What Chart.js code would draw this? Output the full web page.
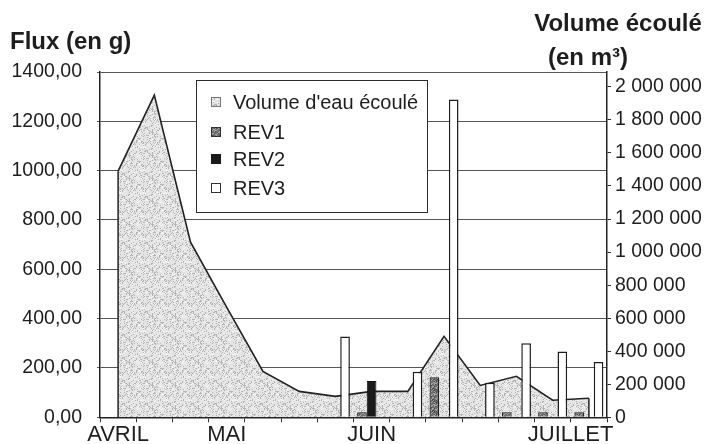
<!DOCTYPE html>
<html>
<head>
<meta charset="utf-8">
<script src="https://cdn.jsdelivr.net/npm/chart.js@4.4.1/dist/chart.umd.min.js"></script>
<style>
  html, body { margin: 0; padding: 0; background: #ffffff; }
  #wrap { width: 711px; height: 444px; position: relative; }
</style>
</head>
<body>
<div id="wrap"><canvas id="c" width="711" height="444"></canvas></div>
<script>
// ---- Data ----
const categories = ['AVRIL', '', '', 'MAI', '', '', '', 'JUIN', '', '', '', '', '', 'JUILLET'];
const volume = [1490000, 1950000, 1060000, 665000, 278000, 157000, 127000, 157000, 157000, 490000, 193000, 248000, 103000, 115000];
const rev1 = [null, null, null, null, null, null, null, 20, null, 162, null, 20, 20, 20];
const rev2 = [null, null, null, null, null, null, null, 147, null, null, null, null, null, null];
const rev3 = [null, null, null, null, null, null, 328, null, 185, 1288, 140, 300, 267, 224];
const leftTicks = [0, 200, 400, 600, 800, 1000, 1200, 1400];
const rightTickStep = 200000;
const rightTickMaxLabel = 2000000;
const seriesLabels = ["Volume d'eau écoulé", 'REV1', 'REV2', 'REV3'];

// ---- Styles ----
const FONT = "'Liberation Sans', Arial, Helvetica, sans-serif";
const TXT = '#1e1e1e';
const canvas = document.getElementById('c');
const mainCtx = canvas.getContext('2d');

// deterministic speckle texture (style only, fixed hash)
function makeSpeckle(size, base, dark, light, thrDark, thrLight) {
  const c = document.createElement('canvas');
  c.width = size; c.height = size;
  const x = c.getContext('2d');
  x.fillStyle = base; x.fillRect(0, 0, size, size);
  for (let i = 0; i < size; i++) {
    for (let j = 0; j < size; j++) {
      const h = ((i * 73856093) ^ (j * 19349663) ^ ((i * j) * 83492791)) >>> 0;
      const r = (h % 1000) / 1000;
      if (r < thrDark) { x.fillStyle = dark; x.fillRect(i, j, 1, 1); }
      else if (r > 1 - thrLight) { x.fillStyle = light; x.fillRect(i, j, 1, 1); }
    }
  }
  return mainCtx.createPattern(c, 'repeat');
}
const areaFill = makeSpeckle(23, '#e4e4e4', '#b4b4b4', '#f4f4f4', 0.2, 0.15);
const rev1Fill = makeSpeckle(11, '#6e6e6e', '#4a4a4a', '#a5a5a5', 0.2, 0.25);

const edgePlugin = {
  id: 'areaEdges',
  afterDatasetDraw(chart, args) {
    if (args.index !== 0) return;
    const pts = chart.getDatasetMeta(0).data;
    if (!pts.length) return;
    const base = chart.scales.y1.getPixelForValue(0);
    const ctx = chart.ctx;
    ctx.save();
    ctx.strokeStyle = '#222';
    ctx.lineWidth = 1.5;
    ctx.beginPath();
    ctx.moveTo(pts[0].x, pts[0].y); ctx.lineTo(pts[0].x, base);
    const l = pts[pts.length - 1];
    ctx.moveTo(l.x, l.y); ctx.lineTo(l.x, base);
    ctx.stroke();
    ctx.restore();
  }
};

const textPlugin = {
  id: 'titles',
  afterDraw(chart) {
    const ctx = chart.ctx;
    ctx.save();
    ctx.fillStyle = TXT;
    ctx.font = 'bold 24px ' + FONT;
    ctx.textBaseline = 'middle';
    ctx.textAlign = 'left';
    ctx.fillText('Flux (en g)', 10, 42);
    ctx.textAlign = 'center';
    ctx.fillText('Volume écoulé', 618, 24);
    ctx.fillText('(en m³)', 588, 58);
    ctx.restore();
  }
};

const legendPlugin = {
  id: 'boxLegend',
  afterDatasetsDraw(chart) {
    const ctx = chart.ctx;
    ctx.save();
    ctx.fillStyle = '#ffffff';
    ctx.strokeStyle = '#2a2a2a';
    ctx.lineWidth = 1;
    ctx.fillRect(196, 80, 231, 132);
    ctx.strokeRect(196.5, 80.5, 231, 132);
    const ys = [102, 132, 159, 188];
    const fills = [areaFill, rev1Fill, '#1a1a1a', '#ffffff'];
    const strokes = ['#777', '#333', '#1a1a1a', '#333'];
    ctx.font = '20px ' + FONT;
    ctx.textBaseline = 'middle';
    ctx.textAlign = 'left';
    chart.data.datasets.forEach((ds, i) => {
      const y = ys[i];
      ctx.fillStyle = fills[i];
      ctx.fillRect(211, y - 5, 10, 10);
      ctx.strokeStyle = strokes[i];
      ctx.strokeRect(211.5, y - 4.5, 9, 9);
      ctx.fillStyle = TXT;
      ctx.fillText(ds.label, 233, y + 1);
    });
    ctx.restore();
  }
};

const fmtLeft = v => v.toFixed(2).replace('.', ',');
const fmtRight = v => String(v).replace(/\B(?=(\d{3})+(?!\d))/g, ' ');

new Chart(canvas, {
  type: 'bar',
  data: {
    labels: categories,
    datasets: [
      {
        type: 'line', label: seriesLabels[0], data: volume, yAxisID: 'y1', order: 2,
        fill: 'origin', backgroundColor: areaFill, borderColor: '#222', borderWidth: 1.6,
        pointRadius: 0, tension: 0
      },
      { label: seriesLabels[1], data: rev1, yAxisID: 'y', order: 1,
        backgroundColor: rev1Fill, borderColor: '#222', borderWidth: 1.2 },
      { label: seriesLabels[2], data: rev2, yAxisID: 'y', order: 1,
        backgroundColor: '#1a1a1a', borderColor: '#111', borderWidth: 1 },
      { label: seriesLabels[3], data: rev3, yAxisID: 'y', order: 1,
        backgroundColor: '#ffffff', borderColor: '#1e1e1e', borderWidth: 1.5 }
    ]
  },
  options: {
    responsive: true,
    maintainAspectRatio: false,
    animation: false,
    devicePixelRatio: 1,
    layout: { padding: { top: 72, left: 0, right: 0, bottom: 0 } },
    datasets: { bar: { categoryPercentage: 0.8, barPercentage: 1.0, grouped: true } },
    plugins: { legend: { display: false }, tooltip: { enabled: false }, title: { display: false } },
    scales: {
      x: {
        type: 'category',
        offset: true,
        grid: { display: true, drawOnChartArea: false, drawTicks: true, tickLength: 5, color: '#333', offset: true },
        border: { display: true, color: '#222', width: 1.5 },
        ticks: {
          autoSkip: false, maxRotation: 0, minRotation: 0, padding: -1,
          color: TXT, font: { family: FONT, size: 22 },
          callback: function (v, i) {
            const l = categories[i];
            return l === 'JUILLET' ? l + '\u2007\u2007\u2007' : l;
          }
        },
        afterFit: s => { s.height = 26; }
      },
      y: {
        position: 'left', min: 0, max: 1400,
        afterBuildTicks: s => { s.ticks = leftTicks.map(v => ({ value: v })); },
        grid: { color: '#555', lineWidth: 1, tickLength: 3, drawTicks: true },
        border: { display: true, color: '#222', width: 1.5 },
        ticks: { color: TXT, font: { family: FONT, size: 19.5 }, padding: 15, callback: v => fmtLeft(v) },
        afterFit: s => { s.width = 100; }
      },
      y1: {
        position: 'right', min: 0, max: 2090000,
        afterBuildTicks: s => {
          const t = [];
          for (let v = 0; v <= rightTickMaxLabel; v += rightTickStep) t.push({ value: v });
          s.ticks = t;
        },
        grid: { drawOnChartArea: false, drawTicks: true, tickLength: 4, color: '#333' },
        border: { display: true, color: '#222', width: 1.5 },
        ticks: { color: TXT, font: { family: FONT, size: 19.5 }, padding: 4, callback: v => fmtRight(v) },
        afterFit: s => { s.width = 104; }
      }
    }
  },
  plugins: [edgePlugin, legendPlugin, textPlugin]
});
</script>
</body>
</html>
